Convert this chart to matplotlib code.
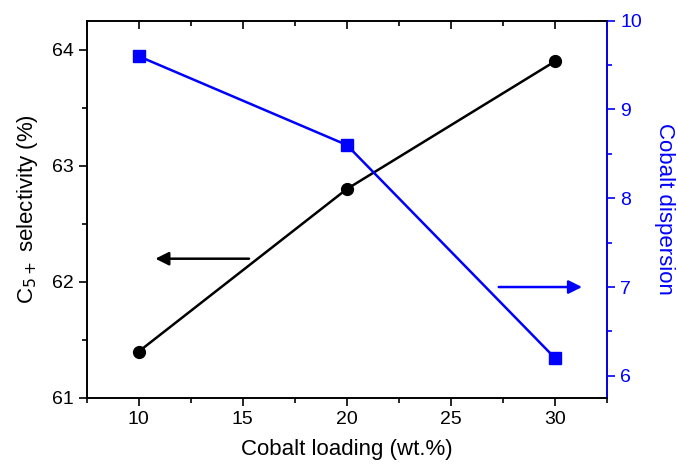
import matplotlib.pyplot as plt
from matplotlib.ticker import MultipleLocator

plt.rcParams['font.family'] = ['Liberation Sans', 'DejaVu Sans']

loading = [10, 20, 30]
selectivity = [61.4, 62.8, 63.9]
dispersion = [9.6, 8.6, 6.2]

fig = plt.figure(figsize=(6.77, 4.71), dpi=100)
pos = [0.128, 0.155, 0.7686, 0.801]
ax = fig.add_axes(pos)
ax2 = ax.twinx()

ax.plot(loading, selectivity, color='k', lw=1.8, marker='o', ms=8.5)
ax2.plot(loading, dispersion, color='#0000ff', lw=1.8, marker='s', ms=8)

# arrows pointing to the matching axis
ax.annotate('', xy=(10.8, 62.2), xytext=(15.3, 62.2),
            arrowprops=dict(arrowstyle='-|>', color='k', lw=1.8,
                            mutation_scale=20, shrinkA=0, shrinkB=0))
ax2.annotate('', xy=(31.3, 7.0), xytext=(27.3, 7.0),
             arrowprops=dict(arrowstyle='-|>', color='#0000ff', lw=1.8,
                             mutation_scale=20, shrinkA=0, shrinkB=0))

ax.set_xlim(7.5, 32.5)
ax.set_ylim(61, 64.25)
ax2.set_ylim(5.75, 10)

ax.xaxis.set_major_locator(MultipleLocator(5))
ax.xaxis.set_minor_locator(MultipleLocator(2.5))
ax.yaxis.set_major_locator(MultipleLocator(1))
ax.yaxis.set_minor_locator(MultipleLocator(0.5))
ax2.yaxis.set_major_locator(MultipleLocator(1))
ax2.yaxis.set_minor_locator(MultipleLocator(0.5))

ax.tick_params(axis='both', which='major', labelsize=14, length=6, width=1.2, direction='out')
ax.tick_params(axis='both', which='minor', length=3.5, width=1.2, direction='out')
ax.tick_params(axis='x', which='both', top=False)
ax2.tick_params(axis='y', which='major', labelsize=14, length=6, width=1.2,
                colors='#0000ff', direction='out')
ax2.tick_params(axis='y', which='minor', length=3.5, width=1.2,
                colors='#0000ff', direction='out')

# top ticks pointing inward: short lines hanging from the top spine
lo, hi = ax.get_xlim()
maj = [t for t in ax.xaxis.get_majorticklocs() if lo <= t <= hi]
mnr = [t for t in ax.xaxis.get_minorticklocs() if lo <= t <= hi]
trans = ax.get_xaxis_transform()
ax.vlines(maj, 1 - 8 / 377, 1, transform=trans, colors='k', lw=1.2, clip_on=False)
ax.vlines(mnr, 1 - 5 / 377, 1, transform=trans, colors='k', lw=1.2, clip_on=False)

for s in ax.spines.values():
    s.set_linewidth(1.2)
for s in ax2.spines.values():
    s.set_linewidth(1.2)
ax2.spines['right'].set_color('#0000ff')

ax.set_xlabel('Cobalt loading (wt.%)', fontsize=16, labelpad=8)
ax.set_ylabel('C$_{5+}$ selectivity (%)', fontsize=16, labelpad=8)
ax2.set_ylabel('Cobalt dispersion', fontsize=16, color='#0000ff', rotation=270, labelpad=24)

fig.savefig('out.png', dpi=100)
